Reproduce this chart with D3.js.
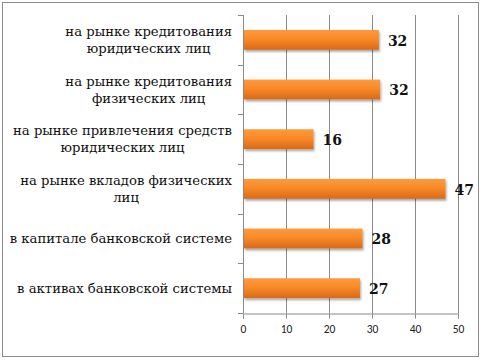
<!DOCTYPE html>
<html><head><meta charset="utf-8">
<script src="https://cdn.jsdelivr.net/npm/d3@7"></script>
<style>body{margin:0;background:#fff}svg{display:block}</style>
</head><body>
<svg id="c" width="482" height="361"></svg>
<script>
const categories = [
  ["на рынке кредитования", "юридических лиц"],
  ["на рынке кредитования", "физических лиц"],
  ["на рынке привлечения средств", "юридических лиц"],
  ["на рынке вкладов физических", "лиц"],
  ["в капитале банковской системе"],
  ["в активах банковской системы"]
];
const values = [31.6, 31.9, 16.4, 47.1, 27.8, 27.2];
const xTicks = [0, 10, 20, 30, 40, 50];

const svg = d3.select("#c");
const m = {left: 243, right: 458, top: 15, bottom: 313};

const defs = svg.append("defs");
const g = defs.append("linearGradient").attr("id","bar").attr("x1",0).attr("y1",0).attr("x2",0).attr("y2",1);
g.append("stop").attr("offset","0%").attr("stop-color","#fd9a40");
g.append("stop").attr("offset","45%").attr("stop-color","#f98a26");
g.append("stop").attr("offset","100%").attr("stop-color","#d8691a");
const f = defs.append("filter").attr("id","sh").attr("x","-10%").attr("y","-30%").attr("width","130%").attr("height","180%");
f.append("feDropShadow").attr("dx",1).attr("dy",2).attr("stdDeviation",1.2).attr("flood-color","#000").attr("flood-opacity",0.35);

svg.append("rect").attr("x",2.5).attr("y",2.5).attr("width",476).attr("height",354)
  .attr("fill","#fff").attr("stroke","#8c8c8c").attr("stroke-width",1);

const x = d3.scaleLinear().domain([0,50]).range([m.left, m.right]);
const y = d3.scaleBand().domain(d3.range(categories.length)).range([m.top, m.bottom]).paddingInner(0.6).paddingOuter(0.3);

// grid
svg.append("g").selectAll("line").data(xTicks.slice(1)).join("line")
  .attr("x1", d => Math.round(x(d))+0.5).attr("x2", d => Math.round(x(d))+0.5)
  .attr("y1", m.top).attr("y2", m.bottom)
  .attr("stroke","#8a8a8a").attr("stroke-width",1);

// axes
const xAxis = svg.append("g").attr("transform",`translate(0,${m.bottom+0.5})`)
  .call(d3.axisBottom(x).tickValues(xTicks).tickSize(5).tickPadding(6));
xAxis.select(".domain").attr("stroke","#8a8a8a");
xAxis.selectAll(".tick line").attr("stroke","#8a8a8a");
xAxis.selectAll("text").attr("font-family","Carlito, 'Liberation Sans', sans-serif").attr("font-size",11.5).attr("fill","#222");

const step = (m.bottom - m.top)/categories.length;
const yl = svg.append("g");
yl.append("line").attr("x1",m.left+0.5).attr("x2",m.left+0.5).attr("y1",m.top).attr("y2",m.bottom).attr("stroke","#8a8a8a");
yl.selectAll("line.t").data(d3.range(categories.length+1)).join("line").attr("class","t")
  .attr("x1",m.left-5).attr("x2",m.left)
  .attr("y1",d=>Math.round(m.top+d*step)+0.5).attr("y2",d=>Math.round(m.top+d*step)+0.5)
  .attr("stroke","#8a8a8a");

// bars
svg.append("g").selectAll("rect").data(values).join("rect")
  .attr("x", x(0)+1).attr("y", (d,i)=>y(i)).attr("height", y.bandwidth())
  .attr("width", d => x(d)-x(0)-1)
  .attr("fill","url(#bar)").attr("filter","url(#sh)");

// value labels
svg.append("g").selectAll("text").data(values).join("text")
  .attr("x", d => x(d)+9).attr("y", (d,i)=>y(i)+y.bandwidth()/2+1)
  .attr("dy","0.35em")
  .attr("font-family","DejaVu Serif, serif").attr("font-weight","bold").attr("font-size",14)
  .attr("fill","#111")
  .text(d => d3.format(".0f")(d));

// category labels
const labelRight = 232;
categories.forEach((lines, i) => {
  const cy = y(i) + y.bandwidth()/2;
  const grp = svg.append("g");
  const ts = lines.map((ln, k) => grp.append("text")
    .attr("y", cy + (k - (lines.length-1)/2)*17)
    .attr("dy","0.35em")
    .attr("font-family","DejaVu Serif, serif").attr("font-size",13.2)
    .attr("fill","#111").attr("text-anchor","middle").text(ln));
  const w = d3.max(ts, t => t.node().getComputedTextLength());
  ts.forEach(t => t.attr("x", labelRight - w/2));
});
</script>
</body></html>
